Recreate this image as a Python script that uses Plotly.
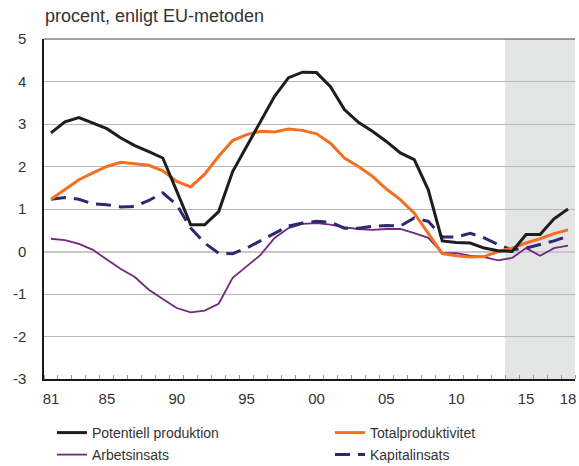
import plotly.graph_objects as go

years = list(range(1981, 2019))

potentiell = [2.79, 3.05, 3.15, 3.02, 2.89, 2.67, 2.49, 2.35, 2.20, 1.42,
              0.63, 0.63, 0.94, 1.88, 2.47, 3.08, 3.65, 4.09, 4.22, 4.21,
              3.88, 3.34, 3.04, 2.83, 2.59, 2.32, 2.16, 1.45, 0.25, 0.21,
              0.20, 0.08, 0.02, 0.00, 0.40, 0.40, 0.77, 1.00]

totalprod = [1.23, 1.47, 1.69, 1.85, 2.00, 2.10, 2.06, 2.03, 1.90, 1.65,
             1.52, 1.82, 2.24, 2.61, 2.75, 2.83, 2.81, 2.88, 2.85, 2.77,
             2.55, 2.20, 2.00, 1.77, 1.47, 1.22, 0.90, 0.43, -0.05, -0.10,
             -0.13, -0.12, 0.00, 0.08, 0.20, 0.30, 0.42, 0.51]

arbetsinsats = [0.30, 0.27, 0.18, 0.04, -0.19, -0.41, -0.60, -0.90, -1.12, -1.33,
                -1.43, -1.39, -1.23, -0.62, -0.35, -0.08, 0.32, 0.55, 0.65, 0.67,
                0.63, 0.57, 0.53, 0.51, 0.53, 0.53, 0.43, 0.32, -0.04, -0.04,
                -0.10, -0.13, -0.21, -0.15, 0.08, -0.10, 0.08, 0.14]

kapitalinsats = [1.23, 1.27, 1.23, 1.12, 1.10, 1.05, 1.06, 1.20, 1.38, 1.10,
                 0.55, 0.20, -0.04, -0.05, 0.08, 0.25, 0.43, 0.60, 0.67, 0.71,
                 0.69, 0.55, 0.55, 0.59, 0.61, 0.60, 0.79, 0.71, 0.34, 0.34,
                 0.43, 0.32, 0.16, 0.04, 0.08, 0.16, 0.25, 0.36]

x_tick_vals = [1981, 1985, 1990, 1995, 2000, 2005, 2010, 2015, 2018]
x_tick_text = ["81", "85", "90", "95", "00", "05", "10", "15", "18"]
y_tick_vals = [-3, -2, -1, 0, 1, 2, 3, 4, 5]
y_tick_text = ["-3", "-2", "-1", "0", "1", "2", "3", "4", "5"]
forecast_start = 2013.5
forecast_end = 2018.5

FONT = "Liberation Sans, Arial, sans-serif"
TXT = "#333333"

fig = go.Figure()

fig.add_trace(go.Scatter(x=years, y=arbetsinsats, mode="lines", name="Arbetsinsats",
                         line=dict(color="#71297e", width=1.8), legend="legend3"))
fig.add_trace(go.Scatter(x=years, y=kapitalinsats, mode="lines", name="Kapitalinsats",
                         line=dict(color="#2b2a70", width=3, dash="15px,8px"), legend="legend4"))
fig.add_trace(go.Scatter(x=years, y=totalprod, mode="lines", name="Totalproduktivitet",
                         line=dict(color="#f36f21", width=3), legend="legend2"))
fig.add_trace(go.Scatter(x=years, y=potentiell, mode="lines", name="Potentiell produktion",
                         line=dict(color="#1d1d1b", width=3), legend="legend"))

fig.add_shape(type="rect", xref="x", yref="paper", x0=forecast_start, x1=forecast_end,
              y0=0, y1=1, fillcolor="#e3e4e4", line=dict(width=0), layer="below")
fig.add_shape(type="line", xref="paper", yref="paper", x0=0, x1=1, y0=1, y1=1,
              line=dict(color="#404040", width=1))

legend_common = dict(orientation="v", xanchor="left", yanchor="middle",
                     xref="paper", yref="container",
                     font=dict(family=FONT, size=14, color=TXT),
                     bgcolor="rgba(0,0,0,0)", borderwidth=0)

col1, col2 = 0.015, 0.5386
row1, row2 = 1 - 433 / 466, 1 - 455 / 466

fig.update_layout(
    width=579, height=466,
    margin=dict(l=44, r=4, t=39, b=87),
    paper_bgcolor="white", plot_bgcolor="white",
    font=dict(family=FONT, size=15, color=TXT),
    showlegend=True,
    legend=dict(x=col1, y=row1, **legend_common),
    legend2=dict(x=col2, y=row1, **legend_common),
    legend3=dict(x=col1, y=row2, **legend_common),
    legend4=dict(x=col2, y=row2, **legend_common),
    annotations=[dict(text="procent, enligt EU-metoden", xref="paper", yref="paper",
                      x=-0.002, y=1.0, xanchor="left", yanchor="bottom", yshift=11,
                      showarrow=False, font=dict(family=FONT, size=18, color=TXT))],
)

fig.update_xaxes(
    range=[1980.5, 2018.5], tickmode="array", tickvals=x_tick_vals, ticktext=x_tick_text,
    showgrid=False, zeroline=False, showline=True, linecolor="#1a1a1a", linewidth=1.5,
    ticks="", ticklabelstandoff=5,
    minor=dict(ticks="inside", tick0=1980.5, dtick=1, ticklen=4, tickcolor="#9a9a9a",
               tickwidth=1, showgrid=False),
    tickfont=dict(family=FONT, size=15, color=TXT),
)
fig.update_yaxes(
    range=[-3, 5], tickmode="array", tickvals=y_tick_vals, ticktext=y_tick_text,
    showgrid=True, gridcolor="#b8b8b8", gridwidth=1,
    zeroline=True, zerolinecolor="#c8c8c8", zerolinewidth=1.5,
    showline=True, linecolor="#1a1a1a", linewidth=1.5, ticks="", ticklabelstandoff=13,
    tickfont=dict(family=FONT, size=15, color=TXT),
)

fig.write_html("out.html", config={"displayModeBar": False},
               post_script="document.body.style.margin='0';document.body.style.overflow='hidden';")
